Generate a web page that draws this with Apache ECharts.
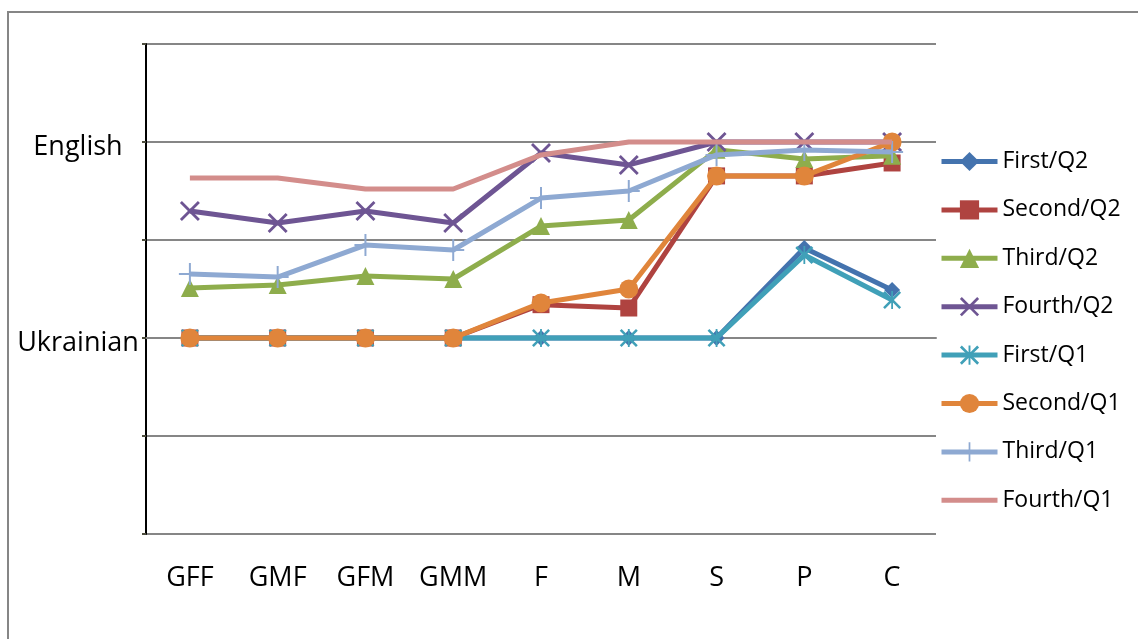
<!DOCTYPE html>
<html>
<head>
<meta charset="utf-8">
<script src="https://cdn.jsdelivr.net/npm/echarts@6/dist/echarts.min.js"></script>
<style>
  html, body { margin: 0; padding: 0; background: #fff; }
  #app { width: 1138px; height: 639px; }
</style>
</head>
<body>
<div id="app"></div>
<script>
const categories = ['GFF', 'GMF', 'GFM', 'GMM', 'F', 'M', 'S', 'P', 'C'];
const seriesNames = ['First/Q2', 'Second/Q2', 'Third/Q2', 'Fourth/Q2', 'First/Q1', 'Second/Q1', 'Third/Q1', 'Fourth/Q1'];

// 0 = Ukrainian, 1 = English
const firstQ2 = [0, 0, 0, 0, 0, 0, 0, 0.459, 0.245];
const secondQ2 = [0, 0, 0, 0, 0.17, 0.153, 0.827, 0.827, 0.893];
const thirdQ2 = [0.255, 0.27, 0.316, 0.301, 0.571, 0.602, 0.96, 0.913, 0.93];
const fourthQ2 = [0.648, 0.587, 0.648, 0.587, 0.944, 0.883, 1, 1, 1];
const firstQ1 = [0, 0, 0, 0, 0, 0, 0, 0.423, 0.194];
const secondQ1 = [0, 0, 0, 0, 0.179, 0.25, 0.827, 0.827, 1];
const thirdQ1 = [0.327, 0.311, 0.474, 0.449, 0.714, 0.75, 0.934, 0.959, 0.949];
const fourthQ1 = [0.816, 0.816, 0.76, 0.76, 0.934, 1, 1, 1, 1];

const yLabels = { '0': 'Ukrainian', '1': 'English' };

const FONT = '"Open Sans", "Noto Sans", sans-serif';
const crossPath = 'path://M0,1L1,0L5,4L9,0L10,1L6,5L10,9L9,10L5,6L1,10L0,9L4,5Z';
const plusPath = 'path://M4.55,0H5.45V4.55H10V5.45H5.45V10H4.55V5.45H0V4.55H4.55Z';
const starPath = 'path://M0,1L1,0L5,4L9,0L10,1L6,5L10,9L9,10L5,6L1,10L0,9L4,5ZM4.5,0H5.5V10H4.5Z';

const styles = [
  { color: '#4473AE', symbol: 'diamond', size: 16 },
  { color: '#AF4340', symbol: 'rect', size: 17 },
  { color: '#8EAD4C', symbol: 'triangle', size: 18 },
  { color: '#6E5593', symbol: crossPath, size: 20 },
  { color: '#40A0B8', symbol: starPath, size: 18 },
  { color: '#E0853B', symbol: 'circle', size: 19 },
  { color: '#8EA9D2', symbol: plusPath, size: 22 },
  { color: '#D38D8B', symbol: 'none', size: 0 },
];
const allData = [firstQ2, secondQ2, thirdQ2, fourthQ2, firstQ1, secondQ1, thirdQ1, fourthQ1];

const myChart = echarts.init(document.getElementById('app'));

const legendData = seriesNames.map((name, i) => {
  const item = { name };
  if (styles[i].symbol === 'none') {
    item.itemStyle = { color: 'rgba(0,0,0,0)', opacity: 0 };
  }
  return item;
});

const option = {
  animation: false,
  textStyle: { fontFamily: FONT },
  graphic: [{
    type: 'rect',
    shape: { x: 8, y: 12, width: 1300, height: 800 },
    style: { fill: 'none', stroke: '#868686', lineWidth: 2 },
    silent: true,
  }],
  grid: { left: 146, right: 202, top: 44, bottom: 105 },
  legend: {
    orient: 'vertical',
    left: 934,
    top: 145,
    itemWidth: 56,
    itemHeight: 24,
    itemGap: 25.4,
    data: legendData,
    lineStyle: { width: 5 },
    textStyle: { fontSize: 23, color: '#000', fontFamily: FONT },
  },
  xAxis: {
    type: 'category',
    data: categories,
    boundaryGap: true,
    axisLine: { lineStyle: { color: '#868686', width: 2 } },
    axisTick: { length: 9, lineStyle: { color: '#868686', width: 2 } },
    axisLabel: { fontSize: 27, color: '#000', margin: 31, interval: 0 },
  },
  yAxis: {
    type: 'value',
    min: -1,
    max: 1.5,
    interval: 0.5,
    axisLine: { show: true, lineStyle: { color: '#000', width: 2 } },
    axisTick: { show: true, length: 4, lineStyle: { color: '#4d4d3d', width: 2 } },
    axisLabel: {
      color: '#000',
      margin: 68,
      align: 'center',
      formatter: v => yLabels[String(v)] ? '{a|' + yLabels[String(v)] + '}' : '',
      rich: {
        a: { fontSize: 27, color: '#000', fontFamily: FONT, padding: [10, 0, 0, 0] },
      },
    },
    splitLine: { lineStyle: { color: '#868686', width: 2 } },
  },
  series: seriesNames.map((name, i) => ({
    name,
    type: 'line',
    data: allData[i],
    symbol: styles[i].symbol,
    symbolSize: styles[i].size,
    showSymbol: styles[i].symbol !== 'none',
    color: styles[i].color,
    lineStyle: { width: 5, color: styles[i].color },
    itemStyle: { color: styles[i].color },
    z: 2 + i,
  })),
};

myChart.setOption(option);
</script>
</body>
</html>
